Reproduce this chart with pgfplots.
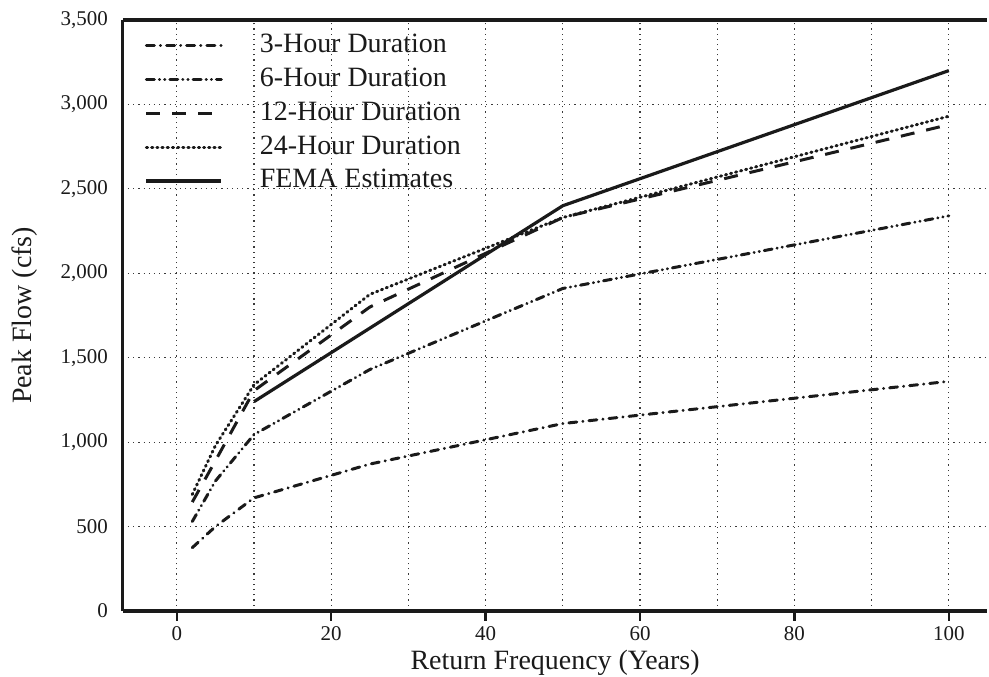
\documentclass[border=0pt]{standalone}
\usepackage{fontspec}
\setmainfont{Liberation Serif}
\usepackage{pgfplots}
\pgfplotsset{compat=1.18}
\definecolor{ink}{HTML}{1A1A1A}
\definecolor{gridink}{HTML}{3A3A3A}

\begin{document}
\begin{tikzpicture}
\begin{axis}[
  scale only axis,
  width=433pt, height=296pt,
  xmin=-7, xmax=105, ymin=0, ymax=3500,
  axis x line*=box, axis y line*=left,
  axis line style={draw=ink, line width=1.6pt},
  xtick={0,20,...,100}, minor xtick={10,30,...,90},
  xtick pos=bottom,
  ytick={0,500,...,3500},
  grid=both,
  major grid style={draw=gridink, line width=0.6pt, dotted},
  minor grid style={draw=gridink, line width=0.6pt, dotted},
  xtick style={draw=ink, line width=1.2pt},
  major tick length=5pt, minor tick length=0pt,
  tick align=outside,
  ytick style={draw=none},
  tick label style={font=\fontsize{10.5}{12}\selectfont, text=ink},
  /pgf/number format/assume math mode=true,
  /pgf/number format/.cd, 1000 sep={,},
  /pgfplots/.cd,
  yticklabel style={xshift=1pt},
  xticklabel style={yshift=0.5pt},
  xlabel={Return Frequency (Years)},
  ylabel={Peak Flow (cfs)},
  every axis x label/.style={at={(axis description cs:0.5,0)}, yshift=-26pt,
    anchor=center, inner sep=0pt, font=\fontsize{14}{16}\selectfont, text=ink},
  every axis y label/.style={at={(axis description cs:0,0.5)}, xshift=-49pt, rotate=90,
    anchor=center, inner sep=0pt, font=\fontsize{14}{16}\selectfont, text=ink},
  extra description/.code={
    \path (rel axis cs:0,0) ++(-61.5pt,-33pt);
    \path (rel axis cs:0,1) ++(0,10pt);
  },
  legend style={draw=none, fill=none, at={(0.025,0.985)}, anchor=north west,
    inner sep=0pt, row sep=1pt,
    font=\fontsize{14}{16}\selectfont,
    nodes={inner sep=1.5pt, text height=10pt, text depth=3pt, text=ink},
    /tikz/every odd column/.append style={column sep=17pt}},
  legend cell align=left,
  legend image code/.code={\draw[#1] (0pt,0pt) -- (37.5pt,0pt);},
]
\addplot[ink, line width=1.5pt, line cap=round, dash pattern=on 4pt off 3pt on 0.1pt off 3pt]
  coordinates {(2,375) (5,500) (10,670) (25,870) (50,1110) (100,1360)};
\addplot[ink, line width=1.5pt, line cap=round, dash pattern=on 4pt off 2.5pt on 0.1pt off 2.5pt on 0.1pt off 2.5pt]
  coordinates {(2,530) (5,770) (10,1045) (25,1430) (50,1910) (100,2340)};
\addplot[ink, line width=1.5pt, dash pattern=on 7pt off 6pt]
  coordinates {(2,645) (5,890) (10,1305) (25,1800) (50,2330) (100,2880)};
\addplot[ink, line width=1.5pt, line cap=round, dash pattern=on 0.6pt off 2pt]
  coordinates {(2,690) (5,980) (10,1340) (25,1875) (50,2330) (100,2930)};
\addplot[ink, line width=1.6pt]
  coordinates {(10,1240) (50,2400) (100,3200)};
\legend{3-Hour Duration, 6-Hour Duration, 12-Hour Duration, 24-Hour Duration, FEMA Estimates}
\end{axis}
\end{tikzpicture}
\end{document}
